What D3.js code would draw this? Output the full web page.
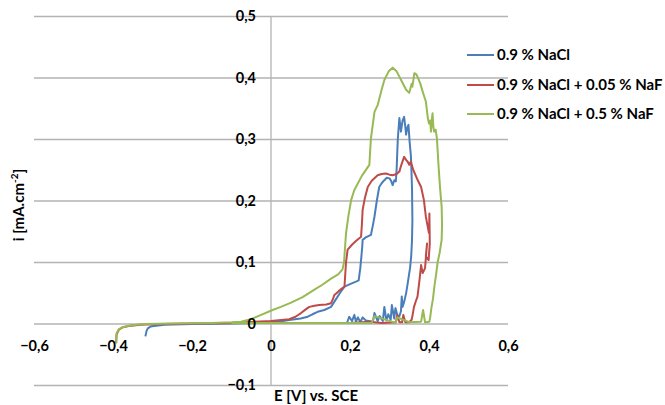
<!DOCTYPE html>
<html>
<head>
<meta charset="utf-8">
<script src="https://cdn.jsdelivr.net/npm/d3@7"></script>
<style>
html,body{margin:0;padding:0;background:#fff;}
svg{display:block;}
text{font-family:Lato,"Open Sans",sans-serif;font-weight:bold;fill:#000;}
</style>
</head>
<body>
<svg id="chart" width="665" height="405"></svg>
<script>
// ---- data (E [V] vs SCE, i [mA.cm-2]) ----
const seriesNames = ["0.9 % NaCl", "0.9 % NaCl + 0.05 % NaF", "0.9 % NaCl + 0.5 % NaF"];
const seriesColors = ["#4a7ebb", "#be4b48", "#98b954"];
const xTicks = [-0.6, -0.4, -0.2, 0, 0.2, 0.4, 0.6];
const yTicks = [-0.1, 0, 0.1, 0.2, 0.3, 0.4, 0.5];

const nacl = [[-0.318,-0.021],[-0.315,-0.012],[-0.312,-0.008],[-0.305,-0.005],[-0.296,-0.004],[-0.27,-0.002],[-0.2,-0.001],[-0.1,0],[-0.03,0.001],[0,0.003],[0.03,0.004],[0.051,0.006],[0.075,0.008],[0.093,0.011],[0.105,0.015],[0.118,0.019],[0.135,0.022],[0.152,0.027],[0.165,0.04],[0.175,0.05],[0.186,0.06],[0.2,0.064],[0.215,0.068],[0.222,0.07],[0.226,0.09],[0.228,0.103],[0.231,0.125],[0.232,0.136],[0.24,0.14],[0.253,0.144],[0.258,0.16],[0.262,0.174],[0.268,0.2],[0.274,0.222],[0.28,0.228],[0.287,0.233],[0.293,0.237],[0.3,0.236],[0.304,0.232],[0.308,0.225],[0.312,0.233],[0.316,0.231],[0.318,0.25],[0.321,0.3],[0.325,0.334],[0.329,0.312],[0.333,0.33],[0.337,0.336],[0.34,0.32],[0.342,0.307],[0.345,0.318],[0.348,0.323],[0.351,0.295],[0.354,0.274],[0.355,0.26],[0.357,0.22],[0.358,0.168],[0.357,0.136],[0.355,0.11],[0.352,0.09],[0.35,0.082],[0.346,0.065],[0.342,0.049],[0.337,0.035],[0.333,0.027],[0.331,0.044],[0.329,0.02],[0.325,0.012],[0.321,0.011],[0.315,0.025],[0.312,0.008],[0.306,0.03],[0.303,0.006],[0.297,0.015],[0.292,0.005],[0.287,0.027],[0.283,0.004],[0.275,0.012],[0.27,0.004],[0.262,0.017],[0.258,0.003],[0.24,0.005],[0.232,0.01],[0.226,0.002],[0.22,0.01],[0.215,0.003],[0.211,0.014],[0.205,0.004],[0.198,0.011],[0.193,0.002],[0.19,0.001]];

const nacl005 = [[-0.392,-0.032],[-0.391,-0.018],[-0.385,-0.01],[-0.375,-0.006],[-0.36,-0.004],[-0.33,-0.002],[-0.28,-0.001],[-0.2,0],[-0.1,0.001],[0,0.004],[0.046,0.007],[0.062,0.011],[0.076,0.017],[0.088,0.023],[0.097,0.027],[0.11,0.029],[0.122,0.03],[0.14,0.031],[0.152,0.033],[0.157,0.04],[0.16,0.046],[0.172,0.053],[0.186,0.06],[0.188,0.08],[0.19,0.1],[0.194,0.12],[0.205,0.128],[0.215,0.134],[0.228,0.141],[0.23,0.16],[0.232,0.185],[0.238,0.205],[0.245,0.222],[0.255,0.232],[0.27,0.241],[0.28,0.243],[0.291,0.244],[0.3,0.242],[0.308,0.241],[0.318,0.243],[0.325,0.247],[0.33,0.258],[0.337,0.271],[0.342,0.266],[0.346,0.263],[0.35,0.258],[0.354,0.263],[0.36,0.25],[0.37,0.235],[0.38,0.222],[0.387,0.201],[0.392,0.174],[0.396,0.16],[0.4,0.147],[0.401,0.179],[0.402,0.13],[0.399,0.103],[0.392,0.109],[0.395,0.13],[0.39,0.09],[0.384,0.082],[0.38,0.095],[0.376,0.071],[0.371,0.044],[0.366,0.035],[0.362,0.027],[0.358,0.012],[0.356,0.006],[0.35,0.002],[0.34,0.002],[0.335,0.014],[0.332,0.002],[0.325,0.002],[0.32,0.014],[0.316,0.002],[0.28,0.001],[0.25,0.003],[0.2,0.001]];

const nacl05 = [[-0.392,-0.032],[-0.391,-0.016],[-0.385,-0.009],[-0.375,-0.006],[-0.363,-0.004],[-0.34,-0.002],[-0.32,-0.001],[-0.25,0],[-0.15,0.001],[-0.1,0.002],[-0.076,0.003],[-0.051,0.007],[-0.025,0.014],[0.004,0.022],[0.025,0.027],[0.051,0.034],[0.08,0.043],[0.11,0.055],[0.13,0.063],[0.152,0.073],[0.17,0.08],[0.181,0.088],[0.185,0.1],[0.187,0.12],[0.19,0.147],[0.196,0.175],[0.203,0.201],[0.211,0.217],[0.23,0.24],[0.249,0.258],[0.251,0.28],[0.253,0.301],[0.262,0.344],[0.27,0.355],[0.28,0.38],[0.287,0.396],[0.298,0.41],[0.308,0.416],[0.318,0.41],[0.33,0.395],[0.342,0.38],[0.35,0.375],[0.356,0.39],[0.358,0.385],[0.363,0.407],[0.368,0.405],[0.371,0.401],[0.378,0.39],[0.384,0.377],[0.39,0.365],[0.392,0.361],[0.395,0.345],[0.397,0.334],[0.4,0.325],[0.403,0.33],[0.405,0.312],[0.407,0.33],[0.409,0.342],[0.411,0.32],[0.413,0.312],[0.417,0.315],[0.42,0.301],[0.422,0.28],[0.424,0.258],[0.428,0.22],[0.432,0.19],[0.433,0.16],[0.432,0.136],[0.427,0.115],[0.422,0.1],[0.418,0.08],[0.414,0.062],[0.41,0.04],[0.406,0.025],[0.403,0.01],[0.401,0.003],[0.39,0.002],[0.385,0.022],[0.38,0.003],[0.35,0.002],[0.32,0.01],[0.315,0.001],[0.262,0.012],[0.255,0.001],[0.2,0.001],[0.1,0.001],[0,0.001],[-0.1,0.001]];

const allSeries = [nacl, nacl005, nacl05];

// ---- chart ----
const svg = d3.select("#chart");
const x = d3.scaleLinear().domain([-0.6, 0.6]).range([34, 508]);
const y = d3.scaleLinear().domain([-0.1, 0.5]).range([385, 16]);
const fmt = d => d === 0 ? "0" : d3.format(".1f")(d).replace(".", ",");

// gridlines
const grid = svg.append("g").attr("transform", `translate(${x(-0.6)},0)`)
  .call(d3.axisLeft(y).tickValues(yTicks).tickSize(-(x(0.6) - x(-0.6))).tickFormat(""));
grid.select(".domain").remove();
grid.selectAll(".tick line").attr("stroke", "#b3b3b3").attr("stroke-width", 1.3);

// vertical axis line
svg.append("line").attr("x1", x(0)).attr("x2", x(0)).attr("y1", y(0.5)).attr("y2", y(-0.1))
  .attr("stroke", "#b3b3b3").attr("stroke-width", 1.3);

// series lines
const line = d3.line().x(d => x(d[0])).y(d => y(d[1]));
allSeries.forEach((s, k) => {
  svg.append("path").datum(s).attr("d", line).attr("fill", "none")
    .attr("stroke", seriesColors[k]).attr("stroke-width", 2).attr("stroke-linejoin", "round");
});

// y tick labels
const yAx = svg.append("g").attr("transform", `translate(${x(0)},0)`)
  .call(d3.axisLeft(y).tickValues(yTicks).tickSize(0).tickPadding(15).tickFormat(fmt));
yAx.select(".domain").remove();
yAx.selectAll("text").attr("font-size", 14.5).attr("font-family", "Lato").attr("font-weight", "bold");

// x tick labels
const xAx = svg.append("g").attr("transform", `translate(0,${y(0)})`)
  .call(d3.axisBottom(x).tickValues(xTicks).tickSize(0).tickPadding(17).tickFormat(fmt));
xAx.select(".domain").remove();
xAx.selectAll("text").attr("font-size", 14.5).attr("font-family", "Lato").attr("font-weight", "bold");

// axis titles
svg.append("text").attr("x", 316).attr("y", 401).attr("text-anchor", "middle")
  .attr("font-size", 15).text("E [V] vs. SCE");
const yt = svg.append("text").attr("transform", "translate(24,205) rotate(-90)")
  .attr("text-anchor", "middle").attr("font-size", 15);
yt.append("tspan").text("i [mA.cm");
yt.append("tspan").attr("font-size", 10).attr("dy", -6).text("-2");
yt.append("tspan").attr("dy", 6).text("]");

// legend
const legY = [55, 85, 114];
seriesNames.forEach((n, k) => {
  svg.append("line").attr("x1", 467).attr("x2", 494).attr("y1", legY[k]).attr("y2", legY[k])
    .attr("stroke", seriesColors[k]).attr("stroke-width", 2);
  svg.append("text").attr("x", 497).attr("y", legY[k]).attr("dy", "0.35em")
    .attr("font-size", 15).text(n);
});
</script>
</body>
</html>
